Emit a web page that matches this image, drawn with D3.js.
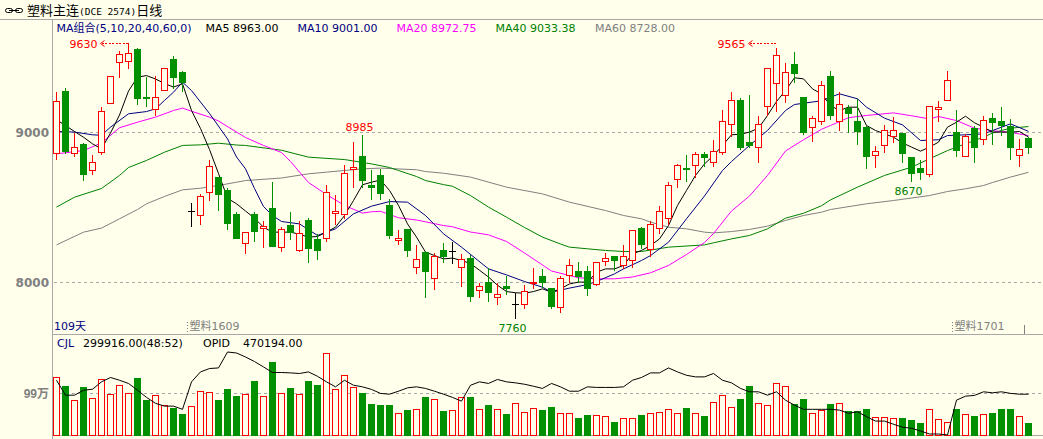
<!DOCTYPE html>
<html><head><meta charset="utf-8">
<script src="https://cdn.jsdelivr.net/npm/d3@7"></script>
<style>
html,body{margin:0;padding:0;background:#FFFFEB;overflow:hidden;}
svg{display:block;}
text{font-family:"DejaVu Sans","Noto Sans CJK SC",sans-serif;}
</style></head><body>
<svg id="c" width="1043" height="439"></svg>
<script>
// ---------------- data ----------------
const opens  = [8858,9273,8858,8918,8742,8862,9191,9462,9471,9547,9233,9147,9278,9484,9400,8473,8444,8596,8700,8613,8447,8258,8447,8356,8493,8229,8380,8209,8407,8280,8291,8458,8451,8747,8840,8644,8707,8513,8278,8347,8098,8196,8022,8213,8202,8096,8156,7944,8000,7898,7973,7853,7851,7991,8040,7958,7829,8044,8073,8073,7984,8138,8173,8107,8144,8356,8218,8358,8422,8684,8758,8778,8847,8796,8862,9051,9213,8927,8896,9169,9322,9244,9447,9227,9033,9071,9373,9073,9156,9067,9029,8844,8911,8969,8989,8827,8760,8716,9151,9211,9000,8838,9022,8951,9093,9071,9036,8844,8960];
const highs  = [9273,9300,8996,8929,8851,9173,9378,9540,9630,9562,9369,9378,9424,9511,9411,8533,8587,8818,8702,8629,8467,8333,8467,8407,8667,8373,8467,8407,8433,8324,8647,8584,8784,8940,8985,8751,8756,8558,8347,8351,8251,8207,8200,8262,8273,8191,8184,7996,8096,7996,8044,7929,7984,8096,8089,7958,8044,8156,8140,8107,8133,8200,8173,8251,8351,8369,8411,8507,8673,8791,8847,8867,8873,8947,9151,9273,9229,9251,9111,9424,9565,9462,9536,9233,9113,9340,9413,9267,9184,9222,9040,8907,9051,9100,8996,8827,8818,9173,9213,9407,9151,8991,9044,9111,9133,9171,9091,8956,8973];
const lows   = [8818,8858,8840,8680,8716,8849,9191,9362,9422,9184,9169,9111,9278,9293,9273,8369,8382,8542,8480,8351,8289,8191,8269,8229,8236,8202,8280,8202,8129,8147,8269,8384,8422,8629,8629,8547,8551,8289,8247,8169,8056,7896,7951,8133,8122,7973,7867,7896,7873,7849,7916,7760,7822,7956,7962,7822,7796,8000,8000,7907,7978,8111,8078,8089,8100,8222,8169,8324,8382,8629,8673,8696,8773,8773,8849,8973,8884,8900,8800,9107,9140,9196,9333,8984,8940,9047,9084,9007,9000,8918,8756,8762,8862,8933,8796,8670,8684,8702,9067,9211,8836,8838,8796,8916,8916,8978,8818,8769,8856];
const closes = [9204,8873,8896,8718,8800,9138,9373,9518,9524,9222,9222,9231,9424,9360,9329,8473,8569,8773,8582,8387,8289,8329,8336,8371,8240,8351,8333,8324,8222,8209,8598,8473,8724,8764,8680,8629,8589,8313,8293,8207,8147,8067,8169,8169,8202,8151,7902,7973,7933,7920,7960,7853,7938,8000,7996,7836,8024,8107,8036,7958,8133,8160,8144,8173,8340,8251,8384,8467,8644,8778,8747,8851,8829,8869,9071,9211,8896,8911,9051,9424,9507,9400,9389,9000,9091,9311,9107,9184,9122,9002,8836,8871,9011,9011,8856,8722,8733,9173,9162,9344,8876,8973,8896,9078,9062,9040,8896,8884,8896];
// volume (万手)
const volumes = [136,115.5,82.5,113,86.5,131,96.6,117,98,134,82.5,93.6,70,63.6,49.5,67.6,103.7,101.4,82.5,108.4,92,96,127,92,172,99,110.8,96.6,127,118,192.6,108.4,141,113,99,73,70.7,70.7,51,59,60.5,89.6,84,56.6,59,88.8,89.6,60.5,70.7,60.5,49.5,74.7,53.5,63,59,66,51,51,40,47,46,44,30.6,39,41,47,51,53.5,60.5,51,63.6,51,44.8,77,93.6,65,84.9,115.5,74.7,70,122.6,114.8,73,84.9,51,59,73,75.4,56.6,56.6,61.3,42.4,42.4,39,40,35.4,28,60.5,37,30.6,61.3,48.7,44.8,48.7,51.9,61.3,61.3,44,28];
// open interest (万手)
const openInterest = [54.0,46.5,46.5,49.0,49.5,53.2,55.4,54.0,52.4,49.0,45.4,42.4,41.0,41.0,39.4,53.2,58.2,59.9,60.2,68.2,67.7,65.7,63.4,60.7,57.9,57.9,57.7,57.4,58.2,56.0,53.2,50.7,54.0,51.5,50.7,49.4,47.4,47.0,48.5,50.2,50.7,49.9,48.5,47.0,45.4,43.5,51.5,53.2,52.4,54.4,53.2,52.7,52.0,51.0,49.9,52.4,50.7,48.5,48.5,50.7,50.4,50.4,50.4,50.7,54.0,55.4,57.7,57.7,60.2,58.2,56.5,55.7,55.7,57.4,54.0,52.7,49.9,48.2,48.2,46.5,48.2,44.0,41.5,39.4,39.4,39.4,39.4,39.0,37.4,38.2,35.7,33.5,33.5,31.9,30.4,29.9,28.5,27.0,27.0,26.5,44.0,46.0,46.4,48.2,47.7,48.2,47.4,47.0,47.0];
// moving averages: [candle index, value]
const ma5 = [[0,9078],[1,9040],[2,9000],[3,8962],[4,8918],[5,8884],[6,8990],[7,9110],[8,9270],[9,9362],[10,9373],[11,9350],[12,9320],[13,9296],[14,9318],[15,9140],[16,9020],[17,8880],[18,8720],[19,8555],[20,8518],[21,8470],[22,8422],[23,8362],[24,8329],[25,8329],[26,8329],[27,8315],[28,8296],[29,8300],[30,8330],[31,8362],[32,8440],[33,8540],[34,8645],[35,8662],[36,8677],[37,8607],[38,8507],[39,8384],[40,8296],[41,8196],[42,8173],[43,8151],[44,8156],[45,8140],[46,8120],[47,8075],[48,8030],[49,7975],[50,7933],[51,7925],[52,7922],[53,7933],[54,7951],[55,7929],[56,7951],[57,7984],[58,7996],[59,7996],[60,8062],[61,8084],[62,8084],[63,8107],[64,8184],[65,8207],[66,8240],[67,8284],[68,8373],[69,8507],[70,8607],[71,8707],[72,8784],[73,8840],[74,8907],[75,8978],[76,8982],[77,8996],[78,9022],[79,9107],[80,9200],[81,9273],[82,9358],[83,9351],[84,9284],[85,9251],[86,9173],[87,9140],[88,9162],[89,9162],[90,9040],[91,9007],[92,8984],[93,8962],[94,8924],[95,8896],[96,8869],[97,8896],[98,8929],[99,9029],[100,9062],[101,9102],[102,9058],[103,9029],[104,8996],[105,8996],[106,8996],[107,9000],[108,8963]];
const ma10 = [[0,9000],[2,8996],[4,8978],[5,8975],[6,9029],[8,9118],[10,9133],[11,9151],[12,9207],[13,9262],[14,9329],[15,9273],[17,9120],[19,8951],[20,8830],[21,8751],[22,8620],[23,8500],[24,8440],[25,8400],[27,8384],[29,8307],[31,8351],[33,8451],[35,8502],[37,8533],[39,8529],[41,8440],[43,8318],[45,8229],[48,8084],[50,8044],[52,8000],[54,7962],[55,7929],[57,7956],[59,7980],[60,8000],[62,8051],[63,8084],[65,8140],[66,8173],[68,8262],[70,8418],[72,8570],[74,8740],[75,8800],[77,8907],[79,9007],[81,9140],[82,9180],[85,9205],[86,9229],[87,9251],[89,9218],[90,9162],[92,9089],[94,9044],[96,8940],[98,8945],[99,8973],[101,8978],[103,8984],[106,9051],[108,9001]];
const ma20 = [[0,8851],[3,8873],[5,8924],[7,9025],[9,9062],[11,9096],[13,9140],[14,9156],[15,9135],[17,9096],[18,9070],[20,8996],[21,8960],[23,8907],[25,8860],[26,8800],[28,8660],[30,8580],[32,8507],[34,8456],[35,8465],[36,8468],[38,8425],[40,8410],[41,8398],[43,8373],[44,8365],[46,8330],[48,8311],[50,8267],[52,8190],[54,8110],[55,8070],[57,8040],[58,8025],[60,8018],[62,8018],[64,8030],[66,8058],[68,8107],[70,8180],[72,8260],[73,8320],[75,8470],[77,8570],[79,8707],[81,8870],[83,8945],[85,9015],[86,9040],[88,9092],[90,9107],[93,9124],[95,9105],[97,9084],[98,9100],[100,9073],[102,9022],[104,9005],[106,8994],[108,8973]];
const ma40 = [[0,8496],[2,8562],[5,8620],[7,8707],[8,8760],[10,8807],[12,8862],[14,8907],[16,8911],[18,8922],[20,8910],[21,8907],[25,8875],[28,8829],[32,8813],[35,8784],[37,8760],[38,8740],[40,8700],[41,8673],[43,8646],[44,8635],[46,8573],[48,8496],[50,8429],[52,8360],[54,8296],[56,8250],[57,8229],[59,8218],[61,8207],[63,8200],[65,8200],[68,8229],[72,8244],[73,8258],[75,8284],[77,8307],[79,8351],[81,8422],[83,8455],[85,8505],[86,8544],[89,8629],[92,8707],[95,8762],[97,8818],[99,8873],[101,8918],[103,8962],[104,8990],[105,9007],[106,9022],[108,9033]];
const ma60 = [[0,8244],[3,8329],[5,8356],[7,8418],[9,8480],[10,8518],[12,8567],[14,8611],[16,8622],[18,8640],[20,8662],[21,8673],[25,8690],[28,8718],[30,8729],[32,8740],[34,8751],[36,8756],[40,8745],[41,8733],[43,8722],[46,8696],[50,8629],[54,8584],[57,8529],[61,8473],[63,8440],[65,8418],[66,8396],[68,8362],[70,8351],[72,8329],[73,8324],[75,8333],[77,8347],[79,8369],[81,8407],[83,8440],[85,8462],[86,8480],[90,8518],[93,8540],[97,8573],[99,8600],[101,8618],[103,8640],[104,8660],[106,8696],[108,8728]];
const priceTicks = [9000, 8000];
const volTicks = [99];
const legendItems = [
  {label:"MA组合(5,10,20,40,60,0)", color:"#000080", x:56.5},
  {label:"MA5 8963.00",  color:"#000000", x:205.5},
  {label:"MA10 9001.00", color:"#000080", x:297.5},
  {label:"MA20 8972.75", color:"#FF00FF", x:396.5},
  {label:"MA40 9033.38", color:"#008000", x:495.5},
  {label:"MA60 8728.00", color:"#808080", x:595}
];
const contractSwitch = [{i:15, label:"塑料1609"}, {i:100, label:"塑料1701"}];
const highMarks = [{i:8, v:9630}, {i:80, v:9565}];
const localHigh = [{i:34, v:8985}];
const lowMarks = [{i:51, v:7760}, {i:95, v:8670}];

// ---------------- drawing ----------------
const W = 1043, H = 439;
const BG = "#FFFFEB", UP = "#FF0000", DN = "#009000", AX = "#A8A8A8";
const svg = d3.select("#c");
svg.append("rect").attr("width", W).attr("height", H).attr("fill", BG);

const N = closes.length;
const x = d3.scaleLinear().domain([0, N - 1]).range([56.5, 1028.5]);
const y = d3.scaleLinear().domain([8000, 9000]).range([281.5, 131.5]);
const plotTop = 42;
const py = v => Math.max(plotTop, Math.round(y(v))) + 0.5;
const volBase = 435;
const yv = d3.scaleLinear().domain([0, 99]).range([volBase, 393]);
const yo = d3.scaleLinear().domain(d3.extent(openInterest)).range([volBase, 352]);

// title bar
const g0 = svg.append("g");
g0.append("rect").attr("x",5.5).attr("y",8.5).attr("width",7).attr("height",4).attr("rx",2).attr("fill","none").attr("stroke","#000");
g0.append("rect").attr("x",15.5).attr("y",8.5).attr("width",7).attr("height",4).attr("rx",2).attr("fill","none").attr("stroke","#000");
g0.append("line").attr("x1",9).attr("x2",19).attr("y1",10.5).attr("y2",10.5).attr("stroke","#000");
const tt = g0.append("text").attr("x",27).attr("y",14.5).attr("font-size",13).attr("fill","#000");
tt.append("tspan").attr("font-family","Noto Sans CJK SC").text("塑料主连");
tt.append("tspan").attr("font-family","DejaVu Sans Mono").attr("font-size",9.5).text("(DCE 2574)");
tt.append("tspan").attr("font-family","Noto Sans CJK SC").text("日线");

// frame lines
svg.append("line").attr("x1",0).attr("x2",W).attr("y1",19.5).attr("y2",19.5).attr("stroke",AX);
svg.append("line").attr("x1",52.5).attr("x2",52.5).attr("y1",19.5).attr("y2",H).attr("stroke",AX);
svg.append("line").attr("x1",52.5).attr("x2",W).attr("y1",334.5).attr("y2",334.5).attr("stroke",AX);
svg.append("line").attr("x1",52.5).attr("x2",W).attr("y1",volBase+0.5).attr("y2",volBase+0.5).attr("stroke",AX);

// price grid + labels
priceTicks.forEach(t => {
  svg.append("line").attr("x1",54).attr("x2",W).attr("y1",py(t)).attr("y2",py(t))
    .attr("stroke","#A8A8A8").attr("stroke-dasharray","3,3");
  svg.append("text").attr("x",49).attr("y",py(t)+4.5).attr("text-anchor","end")
    .attr("font-family","Liberation Sans").attr("font-weight","bold").attr("font-size",12)
    .attr("fill","#808080").text(t);
});
volTicks.forEach(t => {
  const yy = Math.round(yv(t)) + 0.5;
  svg.append("line").attr("x1",54).attr("x2",W).attr("y1",yy).attr("y2",yy)
    .attr("stroke","#A8A8A8").attr("stroke-dasharray","3,3");
  const tx = svg.append("text").attr("x",49).attr("y",yy+4.5).attr("text-anchor","end")
    .attr("font-weight","bold").attr("font-size",12).attr("fill","#808080");
  tx.append("tspan").attr("font-family","Liberation Sans").text(t);
  tx.append("tspan").attr("font-family","Noto Sans CJK SC").text("万");
});

// legend
legendItems.forEach(d => {
  svg.append("text").attr("x",d.x).attr("y",32).attr("font-size",11).attr("fill",d.color).text(d.label);
});

// MA lines
const line = d3.line().x(d => x(d[0])).y(d => y(d[1]));
[[ma60,"#808080"],[ma40,"#008000"],[ma20,"#FF00FF"],[ma10,"#000080"],[ma5,"#000000"]].forEach(([d,c]) => {
  svg.append("path").attr("d", line(d)).attr("fill","none").attr("stroke",c).attr("stroke-width",1);
});

// candles
const gc = svg.append("g").attr("shape-rendering","crispEdges");
for (let i = 0; i < N; i++) {
  const o = opens[i], c = closes[i], h = highs[i], l = lows[i];
  const cx = x(i);
  const top = py(Math.max(o, c)), bot = py(Math.min(o, c));
  if (o === c) {
    gc.append("line").attr("x1",cx).attr("x2",cx).attr("y1",py(h)).attr("y2",py(l)).attr("stroke","#000");
    gc.append("line").attr("x1",cx-3.5).attr("x2",cx+3.5).attr("y1",top).attr("y2",top).attr("stroke","#000");
  } else if (c > o) {
    gc.append("line").attr("x1",cx).attr("x2",cx).attr("y1",py(h)).attr("y2",top).attr("stroke",UP);
    gc.append("line").attr("x1",cx).attr("x2",cx).attr("y1",bot).attr("y2",py(l)).attr("stroke",UP);
    gc.append("rect").attr("x",cx-3).attr("y",top).attr("width",6).attr("height",Math.max(0,bot-top))
      .attr("fill",BG).attr("stroke",UP);
  } else {
    gc.append("line").attr("x1",cx).attr("x2",cx).attr("y1",py(h)).attr("y2",py(l)).attr("stroke",DN);
    gc.append("rect").attr("x",cx-3.5).attr("y",top-0.5).attr("width",7).attr("height",Math.max(1,bot-top+1))
      .attr("fill",DN);
  }
}

// volume bars
const gv = svg.append("g").attr("shape-rendering","crispEdges");
volumes.forEach((v, i) => {
  const cx = x(i);
  const t = Math.round(yv(v)) + 0.5;
  if (closes[i] >= opens[i]) {
    gv.append("rect").attr("x",cx-3).attr("y",t).attr("width",6).attr("height",volBase-t+0.5)
      .attr("fill",BG).attr("stroke",UP);
  } else {
    gv.append("rect").attr("x",cx-3.5).attr("y",t-0.5).attr("width",7).attr("height",volBase-t+1)
      .attr("fill",DN);
  }
});
// open interest line
svg.append("path").attr("d", d3.line().x((d,i)=>x(i)).y(d=>yo(d))(openInterest))
  .attr("fill","none").attr("stroke","#000").attr("stroke-width",1);

// volume legend
const vl = [{t:"CJL",c:"#000080",x:57},{t:"299916.00(48:52)",c:"#000",x:83},{t:"OPID",c:"#000",x:203},{t:"470194.00",c:"#000",x:243}];
vl.forEach(d => svg.append("text").attr("x",d.x).attr("y",347).attr("font-size",11).attr("fill",d.c).text(d.t));

// bottom strip of main pane
svg.append("text").attr("x",54).attr("y",330).attr("font-size",11).attr("fill","#000080").text("109天");
contractSwitch.forEach(d => {
  const sx = Math.round(x(d.i - 0.5)) + 0.5;
  svg.append("line").attr("x1",sx).attr("x2",sx).attr("y1",322).attr("y2",334).attr("stroke","#808080").attr("stroke-dasharray","1,2");
  svg.append("text").attr("x",sx+2).attr("y",330).attr("font-size",11).attr("fill","#808080").text(d.label);
});
svg.append("line").attr("x1",1024.5).attr("x2",1024.5).attr("y1",325).attr("y2",334).attr("stroke","#808080");

// annotations
highMarks.forEach(d => {
  const cx = x(d.i), ay = 43.5;
  svg.append("line").attr("x1",cx-27).attr("x2",cx-1).attr("y1",ay).attr("y2",ay)
    .attr("stroke",UP).attr("stroke-dasharray","2,1.5").attr("shape-rendering","crispEdges");
  svg.append("path").attr("d",`M${cx-24},${ay-3}L${cx-28},${ay}L${cx-24},${ay+3}`).attr("fill","none").attr("stroke",UP);
  svg.append("text").attr("x",cx-31).attr("y",ay+4.5).attr("text-anchor","end").attr("font-size",11).attr("fill",UP).text(d.v);
});
localHigh.forEach(d => {
  svg.append("text").attr("x",x(d.i)-3).attr("y",py(d.v)-4).attr("text-anchor","middle").attr("font-size",11).attr("fill",UP).text(d.v);
});
lowMarks.forEach(d => {
  svg.append("text").attr("x",x(d.i)-3).attr("y",py(d.v)+13).attr("text-anchor","middle").attr("font-size",11).attr("fill","#008000").text(d.v);
});
</script>
</body></html>
